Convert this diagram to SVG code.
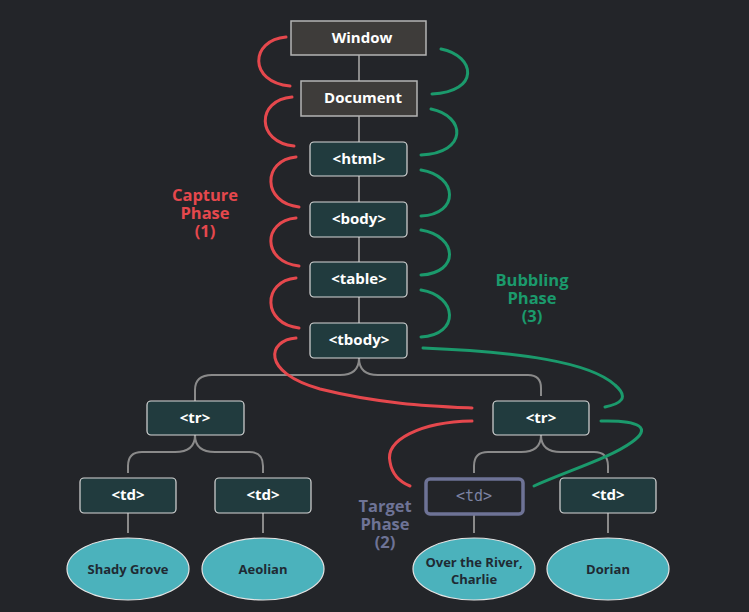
<svg xmlns="http://www.w3.org/2000/svg" width="749" height="612" viewBox="0 0 749 612">
<style>
.bg{fill:#232529}
.top{fill:#3e3c3a;stroke:#b4b4b4;stroke-width:1.5}
.node{fill:#213b3e;stroke:#d8d8d8;stroke-width:1.2}
.leaf{fill:#4bb2bc;stroke:#e4e4e4;stroke-width:1.2}
.t{font-family:"Open Sans","Noto Sans",sans-serif;font-weight:bold;font-size:15px;fill:#ffffff;text-anchor:middle}
.lt{font-family:"Open Sans","Noto Sans",sans-serif;font-weight:bold;font-size:13px;fill:#1f2a33;text-anchor:middle}
.tree{fill:none;stroke:#8a8a8a;stroke-width:2}
.cap{fill:none;stroke:#e5484d;stroke-width:3;stroke-linecap:round}
.bub{fill:none;stroke:#1b9a6c;stroke-width:3;stroke-linecap:round}
.lbl{font-family:"Open Sans","Noto Sans",sans-serif;font-weight:bold;font-size:16.5px;text-anchor:middle}
</style>
<rect class="bg" x="0" y="0" width="749" height="612"/>
<g id="connectors">
<path class="tree" d="M359 55V81M359 116V142M359 176V202M359 237V262M359 297V323"/>
<path class="tree" d="M359 358Q359 375 340 375H212Q195 375 195 390V401"/>
<path class="tree" d="M359 358Q359 375 378 375H528Q541 375 541 388V396"/>
<path class="tree" d="M195 435Q195 452 175 452H142Q128 452 128 466V473"/>
<path class="tree" d="M195 435Q195 452 215 452H249Q263 452 263 466V473"/>
<path class="tree" d="M541 435Q541 452 521 452H488Q474 452 474 466V473"/>
<path class="tree" d="M541 435Q541 452 561 452H594Q608 452 608 466V473"/>
<path class="tree" d="M128 513V533M263 513V533M474 515V533M608 513V533"/>
</g>
<g id="capture-arcs">
<path class="cap" d="M286 37C250 40 248 82 290 86"/>
<path class="cap" d="M292 97C256 100 256 142 294 146"/>
<path class="cap" d="M296 157C262 160 262 203 299 207"/>
<path class="cap" d="M296 218C262 221 262 262 299 266"/>
<path class="cap" d="M296 278C262 281 262 324 299 328"/>
<path class="cap" d="M296 338C268 340 260 372 320 389C380 404 430 406 472 408"/>
<path class="cap" d="M472 421C420 422 385 440 390 462C392 474 400 482 410 486"/>
</g>
<g id="bubble-arcs">
<path class="bub" d="M441 49C476 56 480 92 432 94"/>
<path class="bub" d="M431 109C466 116 468 153 421 155"/>
<path class="bub" d="M421 170C458 176 460 214 421 216"/>
<path class="bub" d="M421 230C458 236 460 273 421 275"/>
<path class="bub" d="M421 290C458 296 460 335 421 337"/>
<path class="bub" d="M423 348C520 352 590 362 615 385C630 398 620 404 605 407"/>
<path class="bub" d="M601 421C640 420 652 428 632 442C610 458 570 470 534 486"/>
</g>
<g id="window"><rect class="top" x="291" y="21" width="135" height="34"/><text class="t" x="362" y="43">Window</text></g>
<g id="document"><rect class="top" x="301" y="81" width="116" height="35"/><text class="t" x="363" y="103">Document</text></g>
<g id="html"><rect class="node" x="310" y="142" width="97" height="34" rx="4"/><text class="t" x="359" y="164">&lt;html&gt;</text></g>
<g id="body"><rect class="node" x="310" y="202" width="97" height="35" rx="4"/><text class="t" x="359" y="224">&lt;body&gt;</text></g>
<g id="table"><rect class="node" x="310" y="262" width="97" height="35" rx="4"/><text class="t" x="359" y="284">&lt;table&gt;</text></g>
<g id="tbody"><rect class="node" x="310" y="323" width="97" height="35" rx="4"/><text class="t" x="359" y="345">&lt;tbody&gt;</text></g>
<g id="tr-left"><rect class="node" x="147" y="401" width="97" height="34" rx="4"/><text class="t" x="195" y="423">&lt;tr&gt;</text></g>
<g id="tr-right"><rect class="node" x="493" y="401" width="96" height="34" rx="4"/><text class="t" x="541" y="423">&lt;tr&gt;</text></g>
<g id="td1"><rect class="node" x="80" y="478" width="96" height="35" rx="4"/><text class="t" x="128" y="500">&lt;td&gt;</text></g>
<g id="td2"><rect class="node" x="215" y="478" width="96" height="35" rx="4"/><text class="t" x="263" y="500">&lt;td&gt;</text></g>
<g id="td-target"><rect x="426" y="479" width="97" height="35" rx="4" fill="#232529" stroke="#6e7396" stroke-width="3.5"/><text x="474" y="501" font-family="'DejaVu Sans Mono','Liberation Mono',monospace" font-size="15" fill="#7d83a3" text-anchor="middle">&lt;td&gt;</text></g>
<g id="td4"><rect class="node" x="560" y="478" width="96" height="35" rx="4"/><text class="t" x="608" y="500">&lt;td&gt;</text></g>
<g id="leaf1"><ellipse class="leaf" cx="128" cy="569" rx="61" ry="31"/><text class="lt" x="128" y="574">Shady Grove</text></g>
<g id="leaf2"><ellipse class="leaf" cx="263" cy="569" rx="61" ry="31"/><text class="lt" x="263" y="574">Aeolian</text></g>
<g id="leaf3"><ellipse class="leaf" cx="474" cy="569" rx="61" ry="31"/><text class="lt" x="474" y="567">Over the River,</text><text class="lt" x="474" y="584">Charlie</text></g>
<g id="leaf4"><ellipse class="leaf" cx="608" cy="569" rx="61" ry="31"/><text class="lt" x="608" y="574">Dorian</text></g>
<g id="label-capture" fill="#e5484d"><text class="lbl" x="205" y="201">Capture</text><text class="lbl" x="205" y="219">Phase</text><text class="lbl" x="205" y="237">(1)</text></g>
<g id="label-bubbling" fill="#1b9a6c"><text class="lbl" x="532" y="286">Bubbling</text><text class="lbl" x="532" y="304">Phase</text><text class="lbl" x="532" y="322">(3)</text></g>
<g id="label-target" fill="#6e7396"><text class="lbl" x="385" y="512">Target</text><text class="lbl" x="385" y="530">Phase</text><text class="lbl" x="385" y="548">(2)</text></g>
</svg>
